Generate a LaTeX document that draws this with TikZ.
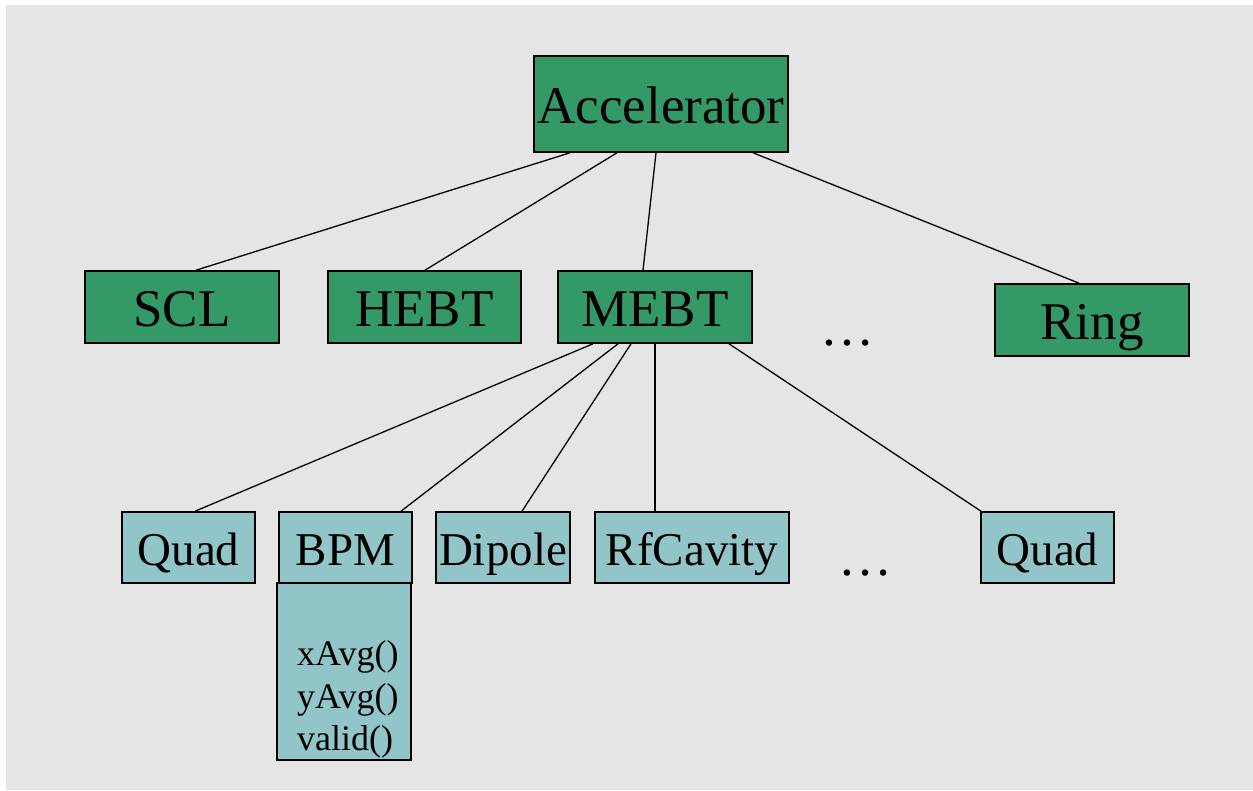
\documentclass[tikz,border=0pt]{standalone}
\usepackage{fontspec}
\setmainfont{Liberation Serif}
\definecolor{bggray}{RGB}{229,229,229}
\definecolor{boxgreen}{RGB}{51,153,102}
\definecolor{boxteal}{RGB}{146,197,200}
\tikzset{
  greenbox/.style={draw=black, fill=boxgreen, line width=1.6pt, rectangle, inner sep=0pt,
    text height=38pt, text depth=0pt, font=\fontsize{53}{60}\selectfont},
  tealbox/.style={draw=black, fill=boxteal, line width=1.6pt, rectangle, inner sep=0pt,
    text height=35pt, text depth=0pt, font=\fontsize{47}{54}\selectfont},
  methodtext/.style={anchor=base west, inner sep=0pt, font=\fontsize{36}{42}\selectfont},
  dotstext/.style={anchor=base, inner sep=0pt, font=\fontsize{54}{60}\selectfont},
  link/.style={draw=black, line width=1.3pt}
}
\begin{document}
\begin{tikzpicture}[x=1pt,y=-1pt]
\useasboundingbox (0,0) rectangle (1253,790);
\fill[bggray] (6,5) rectangle (1253,790);

\node[greenbox, minimum width=254pt, minimum height=96pt] (acc) at (661,104) {Accelerator};
\node[greenbox, minimum width=194pt, minimum height=72pt] (scl) at (182,307) {SCL};
\node[greenbox, minimum width=193pt, minimum height=72pt] (hebt) at (424.5,307) {HEBT};
\node[greenbox, minimum width=194pt, minimum height=72pt] (mebt) at (655,307) {MEBT};
\node[greenbox, minimum width=194pt, minimum height=72pt] (ring) at (1092,320) {Ring};
\node[dotstext] (dots1) at (847,345) {…};

\node[tealbox, minimum width=133pt, minimum height=71pt] (quad1) at (188.5,547.5) {Quad};
\node[tealbox, minimum width=133pt, minimum height=71pt] (bpm) at (345.5,547.5) {BPM};
\node[tealbox, minimum width=134pt, minimum height=71pt] (dipole) at (503,547.5) {Dipole};
\node[tealbox, minimum width=194pt, minimum height=71pt] (rfcav) at (692,547.5) {RfCavity};
\node[tealbox, minimum width=133pt, minimum height=71pt] (quad2) at (1047.5,547.5) {Quad};
\node[dotstext] (dots2) at (865,575) {…};

\node[draw=black, fill=boxteal, line width=1.6pt, rectangle, inner sep=0pt,
  minimum width=134pt, minimum height=177pt] (methods) at (344,671.5) {};
\node[methodtext] (m1) at (297,665) {xAvg()};
\node[methodtext] (m2) at (297,708) {yAvg()};
\node[methodtext] (m3) at (297,750) {valid()};

\draw[link] ([xshift=-91pt]acc.south) -- ([xshift=14pt]scl.north);
\draw[link] ([xshift=-44pt]acc.south) -- ([xshift=0.5pt]hebt.north);
\draw[link] ([xshift=-5pt]acc.south) -- ([xshift=-12pt]mebt.north);
\draw[link] ([xshift=92pt]acc.south) -- ([xshift=-13pt]ring.north);

\draw[link] ([xshift=-62pt]mebt.south) -- ([xshift=6.5pt]quad1.north);
\draw[link] ([xshift=-37pt]mebt.south) -- ([xshift=55.5pt]bpm.north);
\draw[link] ([xshift=-24pt]mebt.south) -- ([xshift=19pt]dipole.north);
\draw[link] (mebt.south) -- ([xshift=-37pt]rfcav.north);
\draw[link] ([xshift=74pt]mebt.south) -- ([xshift=-66.5pt]quad2.north);
\end{tikzpicture}
\end{document}
